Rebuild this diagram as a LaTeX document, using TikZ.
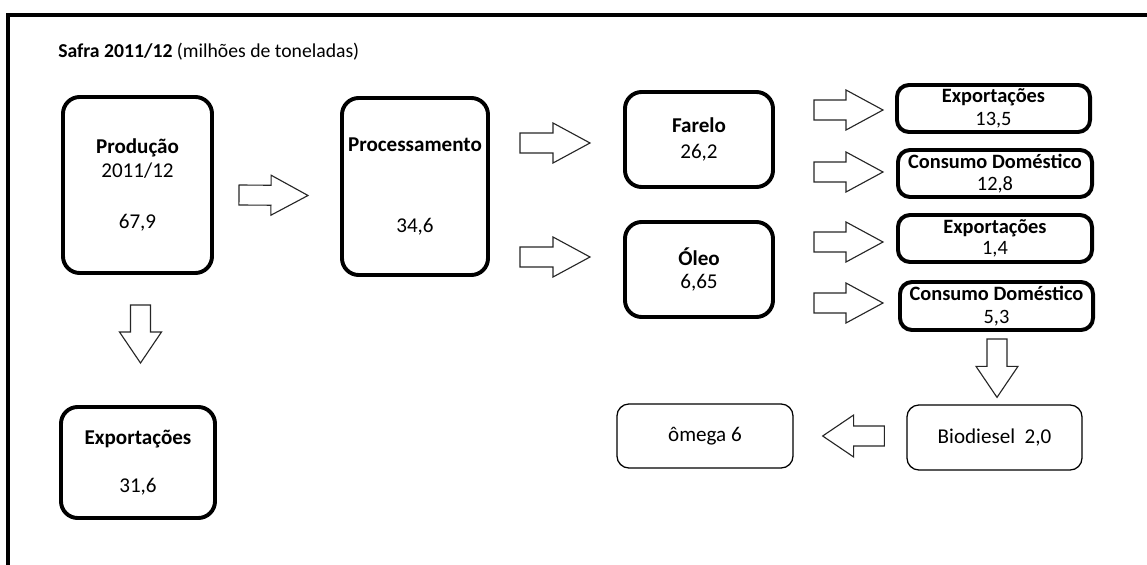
\documentclass[tikz,border=0pt]{standalone}
\usepackage{fontspec}
\setmainfont{Carlito}
\usetikzlibrary{calc,positioning}

\tikzset{
  box/.style={draw, line width=2.8pt, rounded corners=0.42cm, align=center, inner sep=0pt, font=\fontsize{15}{17}\selectfont},
  slimbox/.style={draw, line width=2.8pt, rounded corners=0.3cm, align=center, inner sep=0pt, font=\fontsize{14.5}{16}\selectfont},
  thinbox/.style={draw, line width=0.9pt, rounded corners=0.3cm, align=center, inner sep=0pt, font=\fontsize{15}{17}\selectfont},
  % hollow block arrows, long head
  barrow/.style={draw=black!85, line width=0.8pt, fill=white, line join=miter,
    to path={($(\tikztostart)!0.25cm!90:(\tikztotarget)$)
      -- ($(\tikztotarget)!0.958cm!-15.1:(\tikztostart)$)
      -- ($(\tikztotarget)!1.052cm!-28.4:(\tikztostart)$)
      -- (\tikztotarget)
      -- ($(\tikztotarget)!1.052cm!28.4:(\tikztostart)$)
      -- ($(\tikztotarget)!0.958cm!15.1:(\tikztostart)$)
      -- ($(\tikztostart)!0.25cm!-90:(\tikztotarget)$) -- cycle}},
  % hollow block arrows, short head
  sarrow/.style={draw=black!85, line width=0.8pt, fill=white, line join=miter,
    to path={($(\tikztostart)!0.25cm!90:(\tikztotarget)$)
      -- ($(\tikztotarget)!0.814cm!-17.9:(\tikztostart)$)
      -- ($(\tikztotarget)!0.936cm!-34.1:(\tikztostart)$)
      -- (\tikztotarget)
      -- ($(\tikztotarget)!0.936cm!34.1:(\tikztostart)$)
      -- ($(\tikztotarget)!0.814cm!17.9:(\tikztostart)$)
      -- ($(\tikztostart)!0.25cm!-90:(\tikztotarget)$) -- cycle}}
}

\begin{document}
\begin{tikzpicture}[x=0.025cm, y=-0.025cm, font=\fontsize{14}{16}\selectfont]
    \useasboundingbox (0,0) rectangle (1147,565);
    % frame
    \draw[line width=0.1cm, line join=miter] (1147,15) -- (8,15) -- (8,565);

    % title
    \node[anchor=west, inner sep=0pt] (title) at (58,52) {\textbf{Safra 2011/12} (milhões de toneladas)};

    % Boxes
    \node[box, minimum width=3.725cm, minimum height=4.4cm] (prod) at (137.5,185) {\textbf{Produção}\\2011/12\\[19pt]67,9};
    \node[box, minimum width=3.65cm, minimum height=4.425cm] (proc) at (415,186.5) {\textbf{Processamento}\\[41pt]34,6};
    \node[box, minimum width=3.85cm, minimum height=2.775cm] (expg) at (138,462.5) {\textbf{Exportações}\\[17pt]31,6};
    \node[box, minimum width=3.7cm, minimum height=2.375cm] (farelo) at (699,139.5) {\textbf{Farelo}\\[2pt]26,2};
    \node[box, minimum width=3.7cm, minimum height=2.375cm] (oleo) at (699,269.5) {\textbf{Óleo}\\6,65};
    \node[slimbox, minimum width=4.825cm, minimum height=1.175cm] (fexp) at (993.5,108.5) {\textbf{Exportações}\\13,5};
    \node[slimbox, minimum width=4.85cm, minimum height=1.175cm] (fcons) at (995,173.5) {\textbf{Consumo Doméstico}\\12,8};
    \node[slimbox, minimum width=4.85cm, minimum height=1.175cm] (oexp) at (995,238.5) {\textbf{Exportações}\\[-1pt]1,4};
    \node[slimbox, minimum width=4.825cm, minimum height=1.2cm] (ocons) at (996.5,306) {\textbf{Consumo Doméstico}\\5,3};
    \node[thinbox, minimum width=4.375cm, minimum height=1.625cm] (bio) at (994.5,437.5) {Biodiesel~~2,0};
    \node[thinbox, minimum width=4.4cm, minimum height=1.6cm] (omega) at (705,436) {ômega 6};

    % Arrows
    \draw[barrow] ($(prod.east)+(25,10)$) to ($(proc.west)+(-32,9)$);
    \draw[barrow] ($(proc.east)+(30,-43.5)$) to ($(farelo.west)+(-33,3.5)$);
    \draw[barrow] ($(proc.east)+(30,70.5)$) to ($(oleo.west)+(-33,-12.5)$);
    \draw[barrow] ($(farelo.east)+(39,-29.5)$) to ($(fexp.west)+(-12,1.5)$);
    \draw[barrow] ($(farelo.east)+(39,32.5)$) to ($(fcons.west)+(-13,-1.5)$);
    \draw[barrow] ($(oleo.east)+(39,-27.5)$) to ($(oexp.west)+(-13,3.5)$);
    \draw[barrow] ($(oleo.east)+(39,33.5)$) to ($(ocons.west)+(-15,-3)$);
    \draw[sarrow] ($(prod.south)+(3,30)$) to ($(expg.north)+(2.5,-42)$);
    \draw[sarrow] ($(ocons.south)+(0.5,7)$) to ($(bio.north)+(2.5,-7)$);
    \draw[sarrow] ($(bio.west)+(-22,-1.5)$) to ($(omega.east)+(29,0)$);
\end{tikzpicture}
\end{document}
